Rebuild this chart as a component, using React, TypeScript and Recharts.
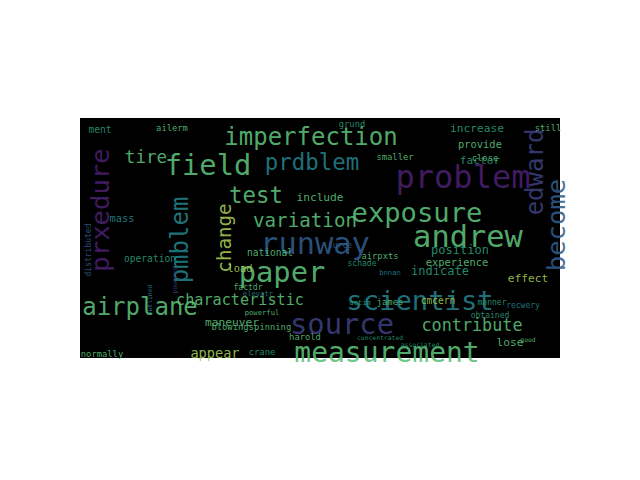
import { ScatterChart, Scatter, XAxis, YAxis, ReferenceArea } from "recharts";

// word, x centre, y centre (px in the 640x480 figure), font size, colour index, vertical
const words = ["imperfection", "problem", "andrew", "field", "prdblem", "test", "exposure", "runway", "variation", "paper", "scientist", "source", "contribute", "airplane", "measurement", "characteristic", "tire", "prxedure", "pmblem", "change", "edward", "become", "ment", "increase", "factor", "include", "position", "indicate", "experience", "effect", "provide", "maneuver", "appear", "lose", "load", "operation", "mass", "national", "normally", "crane", "blowing", "spinning", "harold", "ailerm", "grund", "smaller", "still", "close", "james", "manner", "recwery", "obtained", "surce", "airpxts", "schade", "bnnan", "actim", "cmcern", "factdr", "powerful", "elevatr", "distributed", "powered", "outlined", "associated", "concentrated", "good"];
const xs = [311, 463, 468, 208, 312, 256, 417, 315, 305, 282, 420, 342, 472, 140, 387, 240, 146, 100, 180, 224, 535, 556, 100, 477, 480, 320, 460, 440, 457, 528, 480, 232, 215, 510, 240, 150, 122, 270, 102, 262, 230, 270, 305, 172, 352, 395, 548, 485, 390, 492, 523, 490, 340, 380, 362, 390, 360, 438, 248, 262, 258, 88, 175, 150, 420, 380, 528];
const ys = [137, 177, 236, 165, 162, 195, 212, 243, 220, 272, 300, 324, 325, 307, 352, 300, 157, 210, 240, 238, 172, 225, 129, 128, 160, 197, 250, 271, 262, 278, 144, 322, 353, 342, 268, 258, 218, 252, 354, 352, 327, 327, 337, 128, 124, 157, 128, 158, 302, 302, 305, 315, 245, 256, 263, 272, 302, 300, 287, 312, 293, 250, 280, 300, 345, 338, 340];
const sizes = [30, 40, 38, 36, 28, 28, 34, 38, 24, 36, 34, 36, 21, 30, 35, 19, 22, 32, 30, 24, 30, 32, 12, 14, 14, 14, 15, 15, 13, 14, 13, 14, 17, 14, 13, 12, 13, 12, 11, 11, 11, 11, 11, 11, 11, 11, 11, 11, 11, 10, 10, 10, 10, 11, 10, 9, 9, 12, 10, 9, 9, 10, 8, 8, 8, 8, 8];
const tones = [5, 0, 5, 5, 3, 5, 5, 2, 5, 5, 3, 1, 5, 5, 5, 5, 5, 0, 3, 6, 1, 2, 4, 4, 4, 5, 4, 4, 5, 6, 5, 5, 6, 5, 6, 4, 3, 5, 5, 4, 5, 5, 5, 5, 4, 5, 5, 5, 5, 4, 3, 4, 2, 5, 4, 3, 4, 6, 5, 5, 3, 2, 1, 3, 4, 4, 5];
const vertical = [0, 0, 0, 0, 0, 0, 0, 0, 0, 0, 0, 0, 0, 0, 0, 0, 0, 1, 1, 1, 1, 1, 0, 0, 0, 0, 0, 0, 0, 0, 0, 0, 0, 0, 0, 0, 0, 0, 0, 0, 0, 0, 0, 0, 0, 0, 0, 0, 0, 0, 0, 0, 0, 0, 0, 0, 0, 0, 0, 0, 0, 1, 1, 1, 0, 0, 0];

const palette = ["#4a1f6e", "#3b3f7d", "#2f5c8a", "#23808a", "#2a9a78", "#5cc07a", "#a6cc55"];
const SCALE = 0.8;

const data = words.map((w, i) => ({ word: w, x: xs[i], y: ys[i], size: sizes[i], tone: tones[i], rot: vertical[i] }));

const Word = (props: any) => {
  const { cx, cy, payload } = props;
  return (
    <text
      x={cx}
      y={cy}
      textAnchor="middle"
      dominantBaseline="central"
      fontFamily="DejaVu Sans Mono"
      fontSize={payload.size * SCALE}
      fill={palette[payload.tone]}
      fillOpacity={0.9}
      transform={payload.rot ? `rotate(-90 ${cx} ${cy})` : undefined}
    >
      {payload.word}
    </text>
  );
};

export default function App() {
  return (
    <div style={{ position: "absolute", left: 0, top: 0, background: "#fff" }}>
      <ScatterChart width={640} height={480} margin={{ top: 0, right: 0, bottom: 0, left: 0 }}>
        <XAxis type="number" dataKey="x" domain={[0, 640]} hide />
        <YAxis type="number" dataKey="y" domain={[0, 480]} reversed hide />
        <ReferenceArea x1={80} x2={560} y1={118} y2={358} fill="#000" fillOpacity={1} stroke="none" />
        <Scatter data={data} shape={Word} isAnimationActive={false} />
      </ScatterChart>
    </div>
  );
}
